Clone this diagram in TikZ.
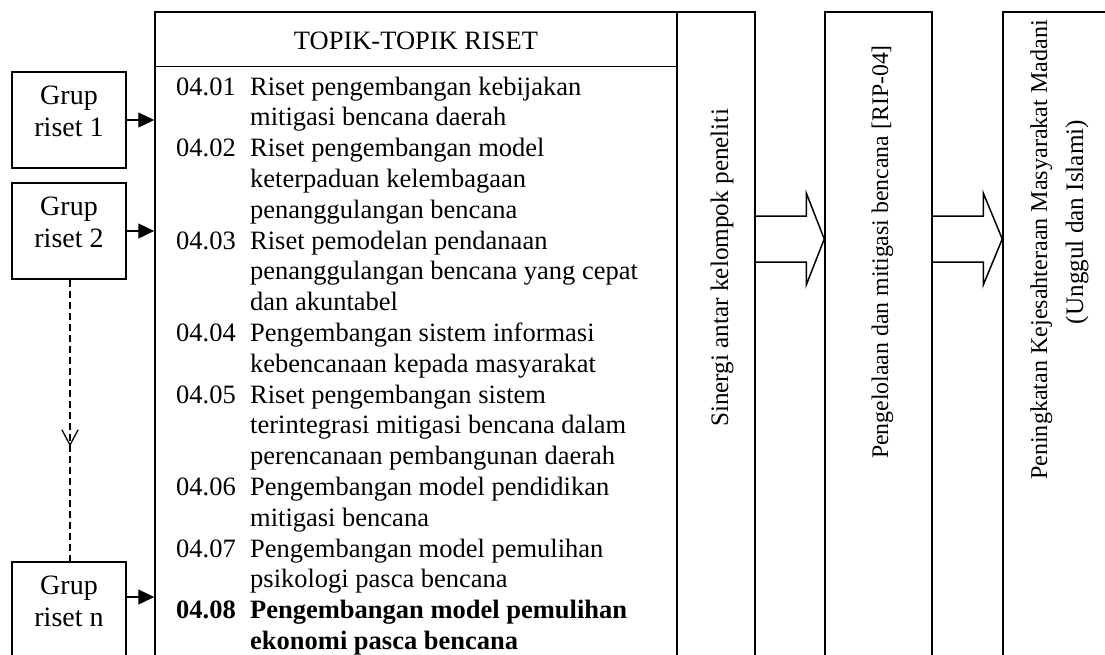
\documentclass[tikz,border=0pt]{standalone}
\usepackage{fontspec}
\setmainfont{Liberation Serif}
\usetikzlibrary{arrows.meta,calc,decorations.markings}
\newcommand{\bodyfont}{\fontsize{26.5pt}{30.8pt}\selectfont}
\newcommand{\grupfont}{\fontsize{28pt}{32pt}\selectfont}
\newcommand{\vertfont}{\fontsize{25.2pt}{30pt}\selectfont}
\newcommand{\vertfontb}{\fontsize{23.8pt}{30pt}\selectfont}
\newcommand{\vertfontc}{\fontsize{24.1pt}{30pt}\selectfont}
\newcommand{\gruptext}[1]{\parbox[c][96pt][t]{114pt}{\centering\vspace*{9.6pt}\strut #1}}
\begin{document}
\begin{tikzpicture}[x=1pt,y=-1pt,
  line/.style={line width=1.5pt, line join=miter},
  boxn/.style={draw, line width=1.5pt, inner sep=0pt, rectangle},
  grup/.style={boxn, minimum width=114pt, minimum height=96pt, font=\grupfont},
  tall/.style={boxn, minimum height=658pt},
  vtext/.style={rotate=90, anchor=base, inner sep=0pt, font=\vertfont},
  feed/.style={line width=1.3pt, -{Triangle[length=16pt,width=15pt]}},
  dashline/.style={line width=1.3pt, dash pattern=on 7pt off 4pt}
]
\useasboundingbox (0,0) rectangle (1105,654);
\clip (0,0) rectangle (1105,654);
\fill[white] (0,0) rectangle (1105,654);

% main boxes
\node[tall, minimum width=522pt] (topik) at (416,341) {};
\node[tall, minimum width=78pt] (sinergi) at (716,341) {};
\node[tall, minimum width=107pt] (peng) at (878.5,341) {};
\node[tall, minimum width=112pt] (ping) at (1059,341) {};

% header
\draw[line] (topik.west |- 0,66.5) -- (topik.east |- 0,66.5);
\node[anchor=base, inner sep=0pt, font=\bodyfont] (hdr) at (416,49) {TOPIK-TOPIK RISET};

% list of topics
\node[anchor=north west, inner sep=0pt, font=\bodyfont] (list) at (176,73.4) {%
\begin{tabular}{@{}p{74pt}@{}l@{}}
04.01 & Riset pengembangan kebijakan\\
      & mitigasi bencana daerah\\
04.02 & Riset pengembangan model\\
      & keterpaduan kelembagaan\\
      & penanggulangan bencana\\
04.03 & Riset pemodelan pendanaan\\
      & penanggulangan bencana yang cepat\\
      & dan akuntabel\\
04.04 & Pengembangan sistem informasi\\
      & kebencanaan kepada masyarakat\\
04.05 & Riset pengembangan sistem\\
      & terintegrasi mitigasi bencana dalam\\
      & perencanaan pembangunan daerah\\
04.06 & Pengembangan model pendidikan\\
      & mitigasi bencana\\
04.07 & Pengembangan model pemulihan\\
      & psikologi pasca bencana\\
\textbf{04.08} & \textbf{Pengembangan model pemulihan}\\
      & \textbf{ekonomi pasca bencana}
\end{tabular}};

% vertical texts
\node[vtext] (tsin) at (728,268) {Sinergi antar kelompok peneliti};
\node[vtext, font=\vertfontb] (tpeng) at (888,252) {Pengelolaan dan mitigasi bencana [RIP-04]};
\node[vtext, font=\vertfontc] (tping1) at (1047,250) {Peningkatan Kejesahteraan Masyarakat Madani};
\node[vtext] (tping2) at (1083,222) {(Unggul dan Islami)};

% research groups
\node[grup] (g1) at (69,120) {\gruptext{Grup\\riset 1}};
\node[grup] (g2) at (69,231) {\gruptext{Grup\\riset 2}};
\node[grup] (gn) at (69,610) {\gruptext{Grup\\riset n}};

\draw[feed] (g1.east) -- (topik.west |- g1.east);
\draw[feed] (g2.east) -- (topik.west |- g2.east);
\draw[feed] (gn.east |- 0,597) -- (topik.west |- 0,597);

\draw[dashline, postaction={decorate},
  decoration={markings, mark=at position 0.587 with {\draw[solid, line width=1.3pt, line cap=round] (-15pt,-8pt) -- (0pt,0pt) -- (-15pt,8pt);}}]
  ([xshift=1pt]g2.south) -- ([xshift=1pt]gn.north);

% block arrows
\coordinate (h1) at ($(peng.west)+(-18,0)$);
\coordinate (h2) at ($(ping.west)+(-19,0)$);
\draw[line] (sinergi.east |- 0,216) -- (h1 |- 0,216) -- (h1 |- 0,193) -- (peng.west |- 0,239)
  -- (h1 |- 0,285) -- (h1 |- 0,262) -- (sinergi.east |- 0,262);
\draw[line] (peng.east |- 0,216) -- (h2 |- 0,216) -- (h2 |- 0,193) -- (ping.west |- 0,239)
  -- (h2 |- 0,285) -- (h2 |- 0,262) -- (peng.east |- 0,262);
\end{tikzpicture}
\end{document}
